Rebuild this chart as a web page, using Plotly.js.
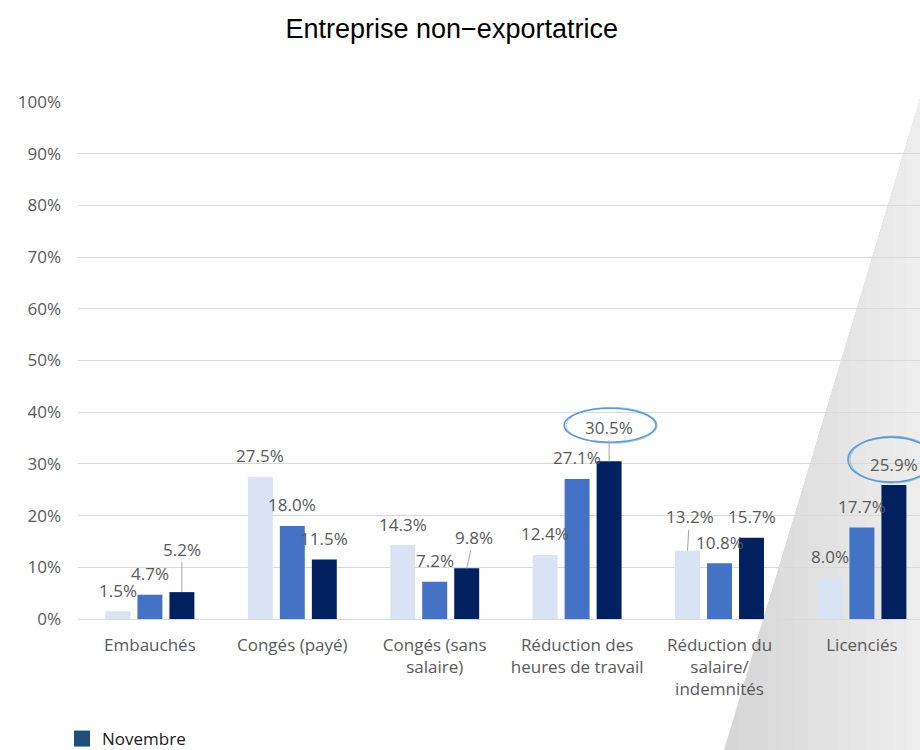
<!DOCTYPE html>
<html>
<head>
<meta charset="utf-8">
<script src="https://cdn.plot.ly/plotly-3.0.1.min.js"></script>
<style>html,body{margin:0;padding:0;background:#fff;}#chart{width:920px;height:750px;}</style>
</head>
<body>
<div id="chart"></div>
<script>
// ---- data ----
const categories = ['Embauchés', 'Congés (payé)', 'Congés (sans<br>salaire)', 'Réduction des<br>heures de travail', 'Réduction du<br>salaire/<br>indemnités', 'Licenciés'];
const seriesA = [1.5, 27.5, 14.3, 12.4, 13.2, 8.0];
const seriesB = [4.7, 18.0, 7.2, 27.1, 10.8, 17.7];
const seriesC = [5.2, 11.5, 9.8, 30.5, 15.7, 25.9];
const yTicks = [0, 10, 20, 30, 40, 50, 60, 70, 80, 90, 100];
const legendLabel = 'Novembre';

// ---- styling ----
const W = 920, H = 750;
const M = {l: 78, r: 0, t: 102, b: 131, autoexpand: false};
const colors = ['#DAE3F3', '#4472C4', '#002060'];
const series = [seriesA, seriesB, seriesC];
const textGrey = '#595959';
const FONT = 'Open Sans, Noto Sans, sans-serif';
const pitch = 32; // px between bars of a group
// labels that were moved away from their bar (with leader line): [series, category, dx, dy]
const moved = [[2, 0, 0, -43], [2, 2, 7, -31], [2, 3, 0, -34], [0, 4, 2, -34]];
// highlighted labels (hand-drawn ellipses): [series, category, x0, x1, y0, y1] in px
const circled = [[2, 3, -13, 79, 19, 53], [2, 5, -14, 72, 3, 48]];

const traces = series.map((vals, i) => ({
  type: 'bar', x: categories, y: vals, name: 'Série ' + (i + 1),
  marker: {color: colors[i]}, showlegend: false, hoverinfo: 'skip'
}));
traces.push({type: 'scatter', mode: 'markers', x: [null], y: [null], name: legendLabel,
  marker: {symbol: 'square', size: 16, color: '#1F4E79'}, showlegend: true, hoverinfo: 'skip'});

const annotations = [];
series.forEach((vals, i) => {
  vals.forEach((v, j) => {
    const mv = moved.find(m => m[0] === i && m[1] === j);
    const base = {
      x: j, y: v, xref: 'x', yref: 'y', text: v.toFixed(1) + '%',
      font: {family: FONT, size: 17, color: textGrey},
      xshift: (i - 1) * pitch
    };
    if (mv) {
      Object.assign(base, {showarrow: true, arrowhead: 0, arrowwidth: 1, arrowcolor: '#a6a6a6',
        ax: mv[2], ay: mv[3], standoff: 0});
    } else {
      Object.assign(base, {showarrow: false, yshift: 21});
    }
    annotations.push(base);
  });
});

const shapes = [];
// page-curl grey triangle (decoration), horizontal gradient built from strips
const px2x = px => (px - M.l) / (W - M.l - M.r);
const py2y = py => (H - M.b - py) / (H - M.t - M.b);
const A = [921, 96], B = [724, 750];
const edgeY = x => A[1] + (A[0] - x) / (A[0] - B[0]) * (B[1] - A[1]);
const nStrips = 14;
for (let k = 0; k < nStrips; k++) {
  const xk = B[0] + (A[0] - B[0]) * k / nStrips;
  const t = k / (nStrips - 1);
  const g = Math.round(0xd6 + (0xed - 0xd6) * t);
  const col = 'rgb(' + g + ',' + g + ',' + g + ')';
  const pts = [[xk, edgeY(xk)], [A[0], A[1]], [A[0], 750], [xk, 750]];
  const path = 'M' + pts.map(p => px2x(p[0]).toFixed(5) + ',' + py2y(p[1]).toFixed(5)).join('L') + 'Z';
  shapes.push({type: 'path', xref: 'paper', yref: 'paper', path: path, fillcolor: col,
    line: {width: 0}, layer: 'below'});
}
circled.forEach(c => {
  const v = series[c[0]][c[1]];
  shapes.push({type: 'circle', xref: 'x', yref: 'y', xsizemode: 'pixel', ysizemode: 'pixel',
    xanchor: c[1], yanchor: v, x0: c[2], x1: c[3], y0: c[4], y1: c[5],
    line: {color: '#5B9BD5', width: 1.6}, layer: 'above'});
  shapes.push({type: 'circle', xref: 'x', yref: 'y', xsizemode: 'pixel', ysizemode: 'pixel',
    xanchor: c[1], yanchor: v, x0: c[2] + 2, x1: c[3] + 1, y0: c[4] - 1, y1: c[5] + 1,
    line: {color: '#5B9BD5', width: 0.8}, opacity: 0.7, layer: 'above'});
});

const layout = {
  width: W, height: H, margin: M,
  paper_bgcolor: '#ffffff', plot_bgcolor: 'rgba(0,0,0,0)',
  title: {text: 'Entreprise non−exportatrice', font: {family: 'Liberation Sans, Arial, sans-serif', size: 27, color: '#000'},
    x: 0.491, xref: 'container', xanchor: 'center', y: 1 - 29 / H, yref: 'container', yanchor: 'middle'},
  barmode: 'group', bargap: 0.326, bargroupgap: 0.22,
  xaxis: {type: 'category', range: [-0.505, -0.505 + (W - M.l - M.r) / 142.4], showgrid: false, zeroline: false,
    showline: false, ticks: '', ticklabelstandoff: 14, tickfont: {family: FONT, size: 17, color: textGrey},
    fixedrange: true, automargin: false},
  yaxis: {range: [0, 100], tickvals: yTicks, ticktext: yTicks.map(t => t + '%'), showgrid: true, gridcolor: '#d9d9d9',
    gridwidth: 1, zeroline: true, zerolinecolor: '#d9d9d9', zerolinewidth: 1, showline: false, ticks: '',
    ticklabelstandoff: 16, tickfont: {family: FONT, size: 17, color: textGrey}, fixedrange: true, automargin: false},
  showlegend: true,
  legend: {x: 62 / W, xref: 'container', xanchor: 'left', y: 1 - 739 / H, yref: 'container', yanchor: 'middle',
    font: {family: FONT, size: 17, color: '#1a1a1a'}, bgcolor: 'rgba(0,0,0,0)', itemsizing: 'trace'},
  annotations: annotations, shapes: shapes, hovermode: false
};
Plotly.newPlot('chart', traces, layout, {displayModeBar: false, staticPlot: true});
</script>
</body>
</html>
